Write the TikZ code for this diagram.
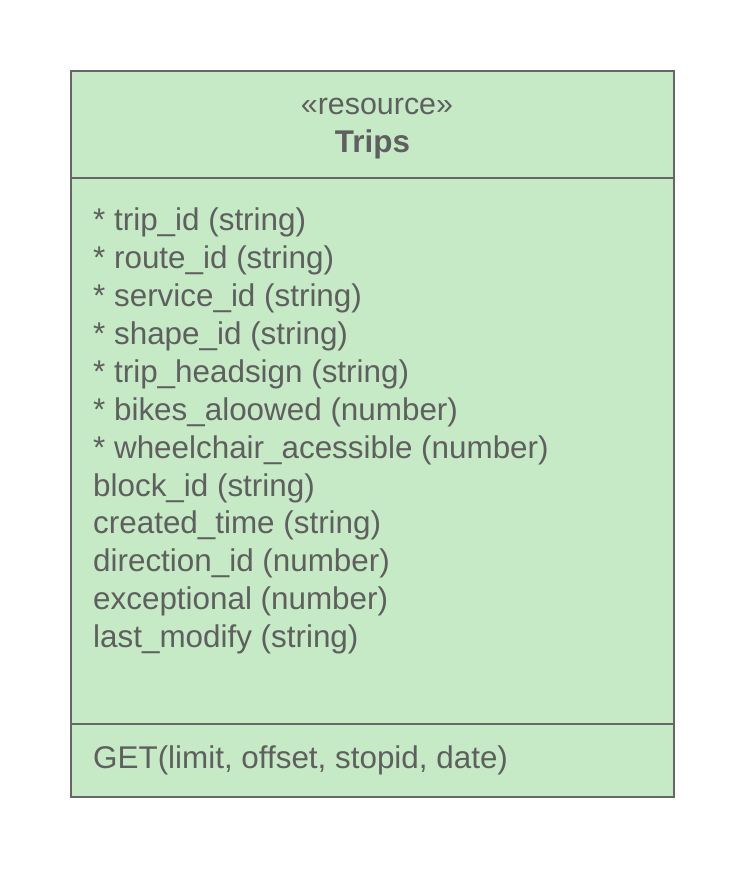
\documentclass[tikz,border=0pt]{standalone}
\usepackage{fontspec}
\setmainfont{Liberation Sans}
\definecolor{boxfill}{HTML}{C5EAC5}
\definecolor{boxline}{HTML}{666666}
\definecolor{boxtext}{HTML}{5F5F5F}
\begin{document}
\begin{tikzpicture}[x=1pt, y=-1pt,
  attr/.style={anchor=base west, inner sep=0pt, text=boxtext, font=\fontsize{31.4}{36}\selectfont},
  head/.style={anchor=base, inner sep=0pt, text=boxtext, font=\fontsize{31.4}{36}\selectfont}]
\useasboundingbox (0,0) rectangle (746,870);
% class box
\draw[boxline, fill=boxfill, line width=2pt] (71,71) rectangle (674,797);
\draw[boxline, line width=1.2pt] (71,178) -- (674,178);
\draw[boxline, line width=1.2pt] (71,724) -- (674,724);
% header
\node[head, font=\fontsize{30.4}{36}\selectfont] (stereo) at (377,114.5) {«resource»};
\node[head, font=\bfseries\fontsize{31.4}{36}\selectfont] (name) at (372.5,152.5) {Trips};
% attributes
\node[attr] (a1) at (93,230) {* trip\_id (string)};
\node[attr] (a2) at (93,268) {* route\_id (string)};
\node[attr] (a3) at (93,306) {* service\_id (string)};
\node[attr] (a4) at (93,344) {* shape\_id (string)};
\node[attr] (a5) at (93,382) {* trip\_headsign (string)};
\node[attr] (a6) at (93,420) {* bikes\_aloowed (number)};
\node[attr] (a7) at (93,458) {* wheelchair\_acessible (number)};
\node[attr] (a8) at (93,496) {block\_id (string)};
\node[attr] (a9) at (93,533) {created\_time (string)};
\node[attr] (a10) at (93,571) {direction\_id (number)};
\node[attr] (a11) at (93,609) {exceptional (number)};
\node[attr] (a12) at (93,647) {last\_modify (string)};
% operations
\node[attr] (op) at (93,768) {GET(limit, offset, stopid, date)};
\end{tikzpicture}
\end{document}
